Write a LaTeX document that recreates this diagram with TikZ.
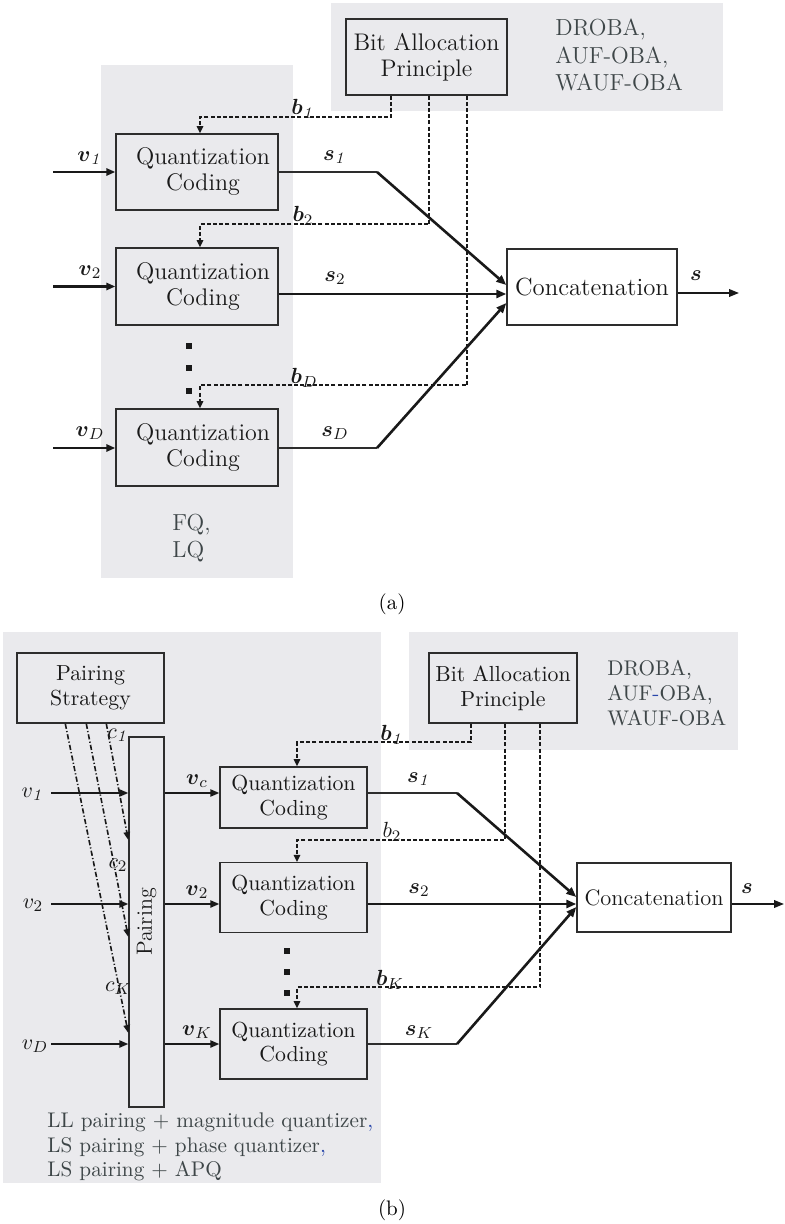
\documentclass[tikz,border=0pt]{standalone}
\usepackage{amsmath,amssymb}
\usetikzlibrary{arrows.meta,calc}
\definecolor{regiongray}{RGB}{234,234,237}
\definecolor{boxline}{RGB}{45,45,45}
\definecolor{notetext}{RGB}{62,70,72}
\definecolor{commablue}{RGB}{40,70,170}
\tikzset{
  region/.style={fill=regiongray, draw=none},
  blockA/.style={draw=boxline, line width=0.7pt, inner sep=0pt, align=center, text=black!90,
    font=\fontsize{12}{13}\selectfont},
  blockB/.style={draw=boxline, line width=0.7pt, inner sep=0pt, align=center, text=black!90,
    font=\fontsize{10.9}{12.4}\selectfont},
  noteA/.style={text=notetext, align=left, inner sep=0pt, font=\fontsize{11.6}{13.7}\selectfont},
  noteB/.style={text=notetext, align=left, inner sep=0pt, font=\fontsize{10.6}{12.4}\selectfont},
  lbl/.style={inner sep=0pt, text=black!90, font=\fontsize{10.8}{12}\selectfont},
  captionstyle/.style={inner sep=0pt, font=\fontsize{10.5}{12}\selectfont},
  thinline/.style={draw=boxline, line width=0.7pt},
  thickarrow/.style={draw=black!90, line width=1.3pt, -{Triangle[length=5pt,width=4pt]}},
  inarrow/.style={draw=black!90, line width=1.3pt, -{Triangle[length=4.5pt,width=3.6pt]}},
  inarrowB/.style={draw=black!90, line width=0.9pt, -{Triangle[length=4.5pt,width=3.6pt]}},
  medarrow/.style={draw=black!90, line width=0.9pt, -{Triangle[length=5pt,width=3.8pt]}},
  dashline/.style={draw=black!90, line width=1pt, dash pattern=on 2pt off 1.1pt,
    -{Triangle[length=3.6pt,width=3.2pt]}},
  dashdotline/.style={draw=black!90, line width=0.8pt, dash pattern=on 2.6pt off 1.1pt on 0.6pt off 1.1pt,
    -{Triangle[length=4pt,width=3.2pt]}},
  dotsq/.style={fill=black!90},
}
\begin{document}
\begin{tikzpicture}[x=0.5pt,y=-0.5pt]
\useasboundingbox (0,0) rectangle (784,1224);

% ================= (a) =================
\fill[region] (101,65) rectangle (293,578);
\fill[region] (331,3) rectangle (723,111);

\node[blockA, minimum width=80.5pt, minimum height=38pt] (bapA) at (426.5,57) {Bit Allocation\\Principle};
\node[noteA, anchor=west] (noteAtop) at (555,55) {DROBA,\\AUF-OBA,\\WAUF-OBA};

\node[blockA, minimum width=81pt, minimum height=38pt] (qa1) at (197,172) {\hspace*{6pt}Quantization\\\hspace*{6pt}Coding};
\node[blockA, minimum width=81pt, minimum height=38.5pt] (qa2) at (197,286.5) {\hspace*{6pt}Quantization\\\hspace*{6pt}Coding};
\node[blockA, minimum width=81pt, minimum height=38.5pt] (qaD) at (197,447.5) {\hspace*{6pt}Quantization\\\hspace*{6pt}Coding};
\node[blockA, fill=white, font=\fontsize{12.4}{14}\selectfont, minimum width=85pt, minimum height=38pt] (catA) at (592,287) {Concatenation};

\node[noteA, anchor=west] (noteAbot) at (172,538) {FQ,\\LQ};

\fill[dotsq] (186,343) rectangle (192,349);
\fill[dotsq] (186,365) rectangle (192,371);
\fill[dotsq] (186,388) rectangle (192,394);

% inputs
\coordinate (inA1) at (53,172);
\coordinate (inA2) at (53,286.5);
\coordinate (inAD) at (53,448);
\draw[inarrow] (inA1) -- (qa1.west);
\draw[inarrow] (inA2) -- (qa2.west);
\draw[inarrow] (inAD) -- (qaD.west |- inAD);
\node[lbl] at (90,158) {$\boldsymbol{v}_{\mathit{1}}$};
\node[lbl] at (90,272) {$\boldsymbol{v}_{2}$};
\node[lbl] at (90,433) {$\boldsymbol{v}_{D}$};

% outputs
\coordinate (bendA1) at (377,172);
\coordinate (bendAD) at (377,448);
\draw[thinline] (qa1.east) -- (bendA1);
\draw[thickarrow] (bendA1) -- ($(catA.west)+(0,-2)$);
\draw[thickarrow] ($(qa2.east)+(0,7.5)$) -- ($(catA.west)+(0,7)$);
\draw[thinline] (qaD.east |- bendAD) -- (bendAD);
\draw[thickarrow] (bendAD) -- ($(catA.west)+(0,16)$);
\coordinate (outA) at (739,293);
\draw[medarrow] (catA.east |- outA) -- (outA);
\node[lbl] at (335,157) {$\boldsymbol{s}_{\mathit{1}}$};
\node[lbl] at (335,278) {$\boldsymbol{s}_{2}$};
\node[lbl] at (335,433) {$\boldsymbol{s}_{D}$};
\node[lbl] at (696,276) {$\boldsymbol{s}$};

% bit allocation dashed
\draw[dashline] ($(bapA.south west)+(46,0)$) |- ($(qa1.north)+(3,-16)$) -- ($(qa1.north)+(3,0)$);
\draw[dashline] ($(bapA.south west)+(84,0)$) |- ($(qa2.north)+(3,-23)$) -- ($(qa2.north)+(3,0)$);
\draw[dashline] ($(bapA.south west)+(122,0)$) |- ($(qaD.north)+(3,-23)$) -- ($(qaD.north)+(3,0)$);
\node[lbl] at (303,109) {$\boldsymbol{b}_{\mathit{1}}$};
\node[lbl] at (303,216) {$\boldsymbol{b}_{2}$};
\node[lbl] at (304,378) {$\boldsymbol{b}_{D}$};

\node[captionstyle] (capA) at (392,604) {(a)};

% ================= (b) =================
\fill[region] (3,632) rectangle (381,1183);
\fill[region] (409,632) rectangle (738,750);

\node[blockB, minimum width=73.5pt, minimum height=35pt] (ps) at (90.5,688) {Pairing\\Strategy};
\node[blockB, minimum width=17.5pt, minimum height=185pt,
  label={[rotate=90, font=\fontsize{11}{12}\selectfont, text=black!90]center:Pairing}] (pair) at (146.5,922) {};
\node[blockB, minimum width=74pt, minimum height=35pt] (bapB) at (503,688) {Bit Allocation\\Principle};
\node[noteB, anchor=west] (noteBtop) at (607,693) {DROBA,\\AUF{\color{commablue}-}OBA,\\WAUF-OBA};

\node[blockB, minimum width=73.5pt, minimum height=30.5pt] (qb1) at (293.5,797.5) {Quantization\\Coding};
\node[blockB, minimum width=73.5pt, minimum height=34.75pt] (qb2) at (293.5,897.5) {Quantization\\Coding};
\node[blockB, minimum width=73.5pt, minimum height=35pt] (qbK) at (293.5,1044) {Quantization\\Coding};
\node[blockB, fill=white, font=\fontsize{11.2}{13}\selectfont, minimum width=77pt, minimum height=34.5pt] (catB) at (654,897.5) {Concatenation};

\fill[dotsq] (284,948) rectangle (290,954);
\fill[dotsq] (284,969) rectangle (290,975);
\fill[dotsq] (284,990) rectangle (290,996);

% inputs to pairing
\coordinate (inB1) at (51,793);
\coordinate (inB2) at (51,904);
\coordinate (inBD) at (51,1044);
\draw[inarrowB] (inB1) -- (pair.west |- inB1);
\draw[inarrowB] (inB2) -- (pair.west |- inB2);
\draw[inarrowB] (inBD) -- (pair.west |- inBD);
\node[lbl] at (33,794) {$v_{\mathit{1}}$};
\node[lbl] at (33,905) {$v_{2}$};
\node[lbl] at (35,1046) {$v_{D}$};

% pairing to quantizers
\draw[inarrowB] (pair.east |- inB1) -- (qb1.west |- inB1);
\draw[inarrowB] (pair.east |- inB2) -- (qb2.west |- inB2);
\draw[inarrowB] (pair.east |- inBD) -- (qbK.west |- inBD);
\node[lbl] at (197,781) {$\boldsymbol{v}_{c}$};
\node[lbl] at (197,892) {$\boldsymbol{v}_{2}$};
\node[lbl] at (197,1032) {$\boldsymbol{v}_{K}$};

% pairing strategy dash-dot
\draw[dashdotline] ($(ps.south west)+(90,0)$) -- ($(pair.west)+(0,-82)$);
\draw[dashdotline] ($(ps.south west)+(70,0)$) -- ($(pair.west)+(0,15)$);
\draw[dashdotline] ($(ps.south west)+(49,0)$) -- ($(pair.west)+(0,111)$);
\node[lbl] at (118,735) {$c_{\mathit{1}}$};
\node[lbl] at (118,865) {$c_{2}$};
\node[lbl] at (118,988) {$c_{K}$};

% outputs
\coordinate (bendB1) at (457,793);
\coordinate (bendBK) at (457,1044);
\draw[thinline] (qb1.east |- bendB1) -- (bendB1);
\draw[thickarrow] (bendB1) -- ($(catB.west)+(0,-0.5)$);
\draw[thickarrow] ($(qb2.east)+(0,6.5)$) -- ($(catB.west)+(0,6.5)$);
\draw[thinline] (qbK.east |- bendBK) -- (bendBK);
\draw[thickarrow] (bendBK) -- ($(catB.west)+(0,9.5)$);
\coordinate (outB) at (784,904);
\draw[medarrow] (catB.east |- outB) -- (outB);
\node[lbl] at (419,779) {$\boldsymbol{s}_{\mathit{1}}$};
\node[lbl] at (419,890) {$\boldsymbol{s}_{2}$};
\node[lbl] at (419,1032) {$\boldsymbol{s}_{K}$};
\node[lbl] at (747,889) {$\boldsymbol{s}$};

% bit allocation dashed
\draw[dashline] ($(bapB.south west)+(43,0)$) |- ($(qb1.north)+(3.5,-24)$) -- ($(qb1.north)+(3.5,0)$);
\draw[dashline] ($(bapB.south west)+(77,0)$) |- ($(qb2.north)+(3.5,-22)$) -- ($(qb2.north)+(3.5,0)$);
\draw[dashline] ($(bapB.south west)+(112,0)$) |- ($(qbK.north)+(3.5,-21)$) -- ($(qbK.north)+(3.5,0)$);
\node[lbl] at (392,735) {$\boldsymbol{b}_{\mathit{1}}$};
\node[lbl] at (392,832) {$b_{2}$};
\node[lbl] at (390,980) {$\boldsymbol{b}_{K}$};

\node[noteB, anchor=west] (noteBbot) at (47,1147) {LL pairing + magnitude quantizer{\color{commablue},}\\LS pairing + phase quantizer{\color{commablue},}\\LS pairing + APQ};

\node[captionstyle] (capB) at (392,1210) {(b)};
\end{tikzpicture}
\end{document}
